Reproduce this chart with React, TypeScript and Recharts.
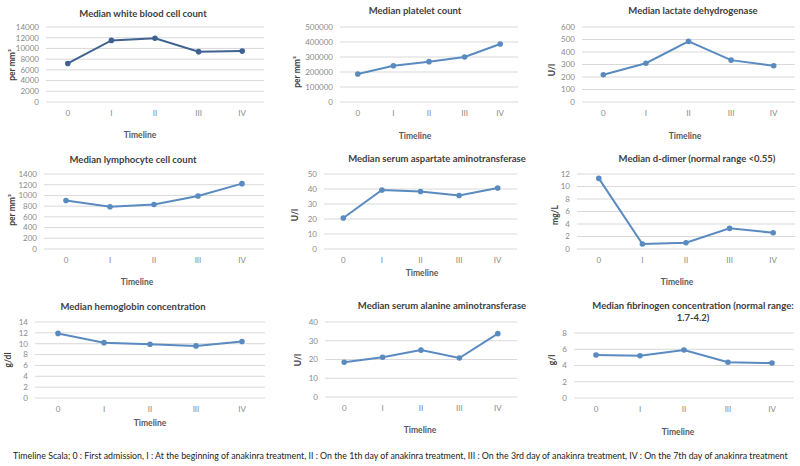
import { LineChart, Line, XAxis, YAxis, CartesianGrid } from 'recharts';

const CATEGORIES = ['0', 'I', 'II', 'III', 'IV'];

const WBC = [7200, 11500, 11900, 9400, 9500];
const PLATELET = [187000, 242000, 269000, 300000, 387000];
const LDH = [218, 310, 485, 335, 290];
const LYMPHOCYTE = [905, 790, 830, 990, 1220];
const AST = [20.7, 39.3, 38.3, 35.7, 40.7];
const D_DIMER = [11.3, 0.8, 1.0, 3.3, 2.6];
const HEMOGLOBIN = [11.9, 10.2, 9.9, 9.6, 10.4];
const ALT = [18.5, 21.2, 25.0, 20.8, 33.8];
const FIBRINOGEN = [5.3, 5.2, 5.9, 4.4, 4.3];

const WBC_TICKS = [0, 2000, 4000, 6000, 8000, 10000, 12000, 14000];
const PLATELET_TICKS = [0, 100000, 200000, 300000, 400000, 500000];
const LDH_TICKS = [0, 100, 200, 300, 400, 500, 600];
const LYMPHOCYTE_TICKS = [0, 200, 400, 600, 800, 1000, 1200, 1400];
const AST_TICKS = [0, 10, 20, 30, 40, 50];
const D_DIMER_TICKS = [0, 2, 4, 6, 8, 10, 12];
const HEMOGLOBIN_TICKS = [0, 2, 4, 6, 8, 10, 12, 14];
const ALT_TICKS = [0, 10, 20, 30, 40];
const FIBRINOGEN_TICKS = [0, 2, 4, 6, 8];

const FOOTNOTE =
  'Timeline Scala; 0 : First admission,  I : At the beginning of anakinra treatment, II : On the 1th day of anakinra treatment, III : On the 3rd day of anakinra treatment, IV : On the 7th day of anakinra treatment';

const rows = CATEGORIES.map((t, i) => ({
  t,
  wbc: WBC[i],
  platelet: PLATELET[i],
  ldh: LDH[i],
  lymphocyte: LYMPHOCYTE[i],
  ast: AST[i],
  dDimer: D_DIMER[i],
  hemoglobin: HEMOGLOBIN[i],
  alt: ALT[i],
  fibrinogen: FIBRINOGEN[i],
}));

const FONT = 'Lato, "Open Sans", sans-serif';
const LINE = '#5a8bc0';

// plot box (L, R, T, B) + where the texts sit
const panels = [
  { key: 'wbc', ticks: WBC_TICKS, title: ['Median white blood cell count'], unit: 'per mm³', color: '#3f6290',
    L: 46, R: 264, T: 27, B: 102, tx: 143, ty: 13, ux: 12, uy: 65, lx: 140, ly: 135 },
  { key: 'platelet', ticks: PLATELET_TICKS, title: ['Median platelet count'], unit: 'per mm³',
    L: 340, R: 518, T: 27, B: 102, tx: 415, ty: 10, ux: 297, uy: 72, lx: 415, ly: 136 },
  { key: 'ldh', ticks: LDH_TICKS, title: ['Median lactate dehydrogenase'], unit: 'U/l',
    L: 582, R: 795, T: 27, B: 102, tx: 693, ty: 10, ux: 552, uy: 70, lx: 685, ly: 136 },
  { key: 'lymphocyte', ticks: LYMPHOCYTE_TICKS, title: ['Median lymphocyte cell count'], unit: 'per mm³',
    L: 44, R: 264, T: 174, B: 249, tx: 133, ty: 159, ux: 12, uy: 210, lx: 137, ly: 282 },
  { key: 'ast', ticks: AST_TICKS, title: ['Median serum aspartate aminotransferase'], unit: 'U/l',
    L: 324, R: 517, T: 174, B: 249, tx: 437, ty: 158, ux: 295, uy: 215, lx: 422, ly: 273 },
  { key: 'dDimer', ticks: D_DIMER_TICKS, title: ['Median d-dimer (normal range <0.55)'], unit: 'mg/L',
    L: 577, R: 795, T: 174, B: 249, tx: 697, ty: 158, ux: 555, uy: 215, lx: 677, ly: 282 },
  { key: 'hemoglobin', ticks: HEMOGLOBIN_TICKS, title: ['Median hemoglobin concentration'], unit: 'g/dl',
    L: 35, R: 265, T: 322, B: 398, tx: 133, ty: 306, ux: 8, uy: 360, lx: 150, ly: 423 },
  { key: 'alt', ticks: ALT_TICKS, title: ['Median serum alanine aminotransferase'], unit: 'U/l',
    L: 325, R: 517, T: 322, B: 397, tx: 442, ty: 305, ux: 298, uy: 360, lx: 420, ly: 430 },
  { key: 'fibrinogen', ticks: FIBRINOGEN_TICKS, title: ['Median fibrinogen concentration (normal range:', '1.7-4.2)'], unit: 'g/l',
    L: 574, R: 794, T: 333, B: 398, tx: 693, ty: 305, ux: 552, uy: 360, lx: 678, ly: 432 },
];

const abs = (x: number, y: number, extra: any = {}) => ({
  position: 'absolute' as const,
  left: x,
  top: y,
  transform: 'translate(-50%, -50%)',
  whiteSpace: 'nowrap' as const,
  ...extra,
});

function Panel({ p }: { p: any }) {
  const yw = 40;
  const left = p.L - yw;
  const top = p.T - 6;
  const width = p.R - left + 2;
  const height = p.B - top + 22;
  const pad = (p.R - p.L) / 10;
  const max = p.ticks[p.ticks.length - 1];
  return (
    <>
      <div style={{ position: 'absolute', left, top }}>
        <LineChart width={width} height={height} data={rows} margin={{ top: 6, right: 2, left: 0, bottom: 0 }}>
          <CartesianGrid vertical={false} stroke="#d9d9d9" />
          <XAxis
            dataKey="t"
            height={22}
            axisLine={false}
            tickLine={false}
            tickSize={0}
            tickMargin={8}
            padding={{ left: pad, right: pad }}
            tick={{ fontSize: 8, fill: '#8a8a8a', fontFamily: FONT }}
          />
          <YAxis
            width={yw}
            domain={[0, max]}
            ticks={p.ticks}
            interval={0}
            axisLine={false}
            tickLine={false}
            tickSize={0}
            tickMargin={7}
            tick={{ fontSize: 8, fill: '#8a8a8a', fontFamily: FONT }}
          />
          <Line
            dataKey={p.key}
            stroke={p.color || LINE}
            strokeWidth={2}
            dot={{ r: 1.8, fill: p.color || LINE, stroke: p.color || LINE }}
            isAnimationActive={false}
          />
        </LineChart>
      </div>
      {p.title.map((s: string, i: number) => (
        <div key={i} style={abs(p.tx, p.ty + i * 12, { fontSize: 9.5, fontWeight: 700, color: '#404040' })}>
          {s}
        </div>
      ))}
      <div style={abs(p.ux, p.uy, { fontSize: 8.5, fontWeight: 700, color: '#404040', transform: 'translate(-50%, -50%) rotate(-90deg)' })}>
        {p.unit}
      </div>
      <div style={abs(p.lx, p.ly, { fontSize: 8.5, fontWeight: 700, color: '#595959' })}>Timeline</div>
    </>
  );
}

export default function App() {
  return (
    <div style={{ position: 'relative', width: 800, height: 466, background: '#fff', fontFamily: FONT, overflow: 'hidden' }}>
      <style>{'body{margin:0}'}</style>
      {panels.map((p) => (
        <Panel key={p.key} p={p} />
      ))}
      <div style={{ position: 'absolute', left: 13, top: 450, fontSize: 8.8, color: '#222', whiteSpace: 'nowrap' }}>
        {FOOTNOTE}
      </div>
    </div>
  );
}
